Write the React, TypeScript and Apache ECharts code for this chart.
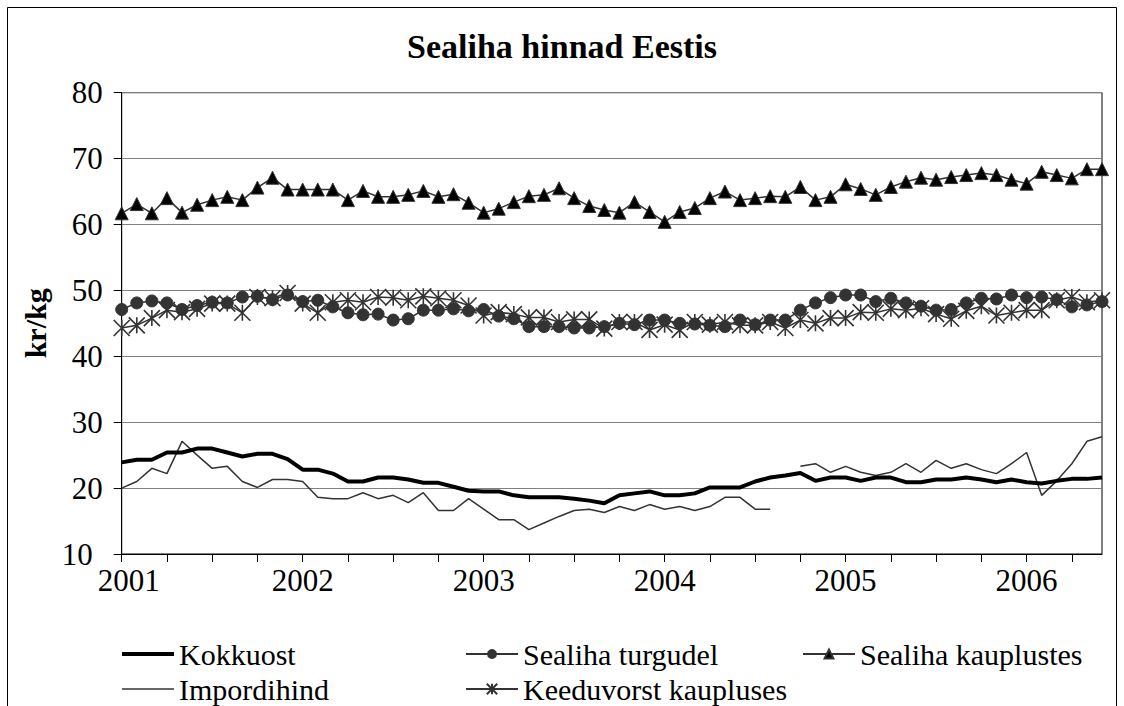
import React, { useEffect, useRef } from "react";
import * as echarts from "echarts";

const startYear = 2001;
const monthCount = 66;
const months: string[] = [];
for (let i = 0; i < monthCount; i++) {
  const y = startYear + Math.floor(i / 12);
  const m = (i % 12) + 1;
  months.push(`${y}-${m < 10 ? "0" + m : m}`);
}

const kokkuost = [
  23.9, 24.3, 24.3, 25.4, 25.4, 26.0, 26.0, 25.4, 24.8, 25.2, 25.2, 24.4,
  22.8, 22.8, 22.2, 21.0, 21.0, 21.6, 21.6, 21.3, 20.8, 20.8, 20.2, 19.6,
  19.5, 19.5, 18.9, 18.6, 18.6, 18.6, 18.4, 18.1, 17.7, 18.9, 19.2, 19.5,
  18.9, 18.9, 19.2, 20.1, 20.1, 20.1, 21.0, 21.6, 21.9, 22.3, 21.1, 21.6,
  21.6, 21.1, 21.6, 21.6, 20.9, 20.9, 21.3, 21.3, 21.6, 21.3, 20.9, 21.3,
  20.9, 20.7, 21.1, 21.4, 21.4, 21.6,
];

const turgudel = [
  47.1, 48.1, 48.4, 48.1, 47.1, 47.7, 48.2, 48.1, 49.0, 49.1, 48.6, 49.3,
  48.3, 48.5, 47.5, 46.6, 46.3, 46.4, 45.5, 45.7, 47.0, 47.0, 47.2, 46.9,
  47.1, 46.1, 45.7, 44.5, 44.5, 44.5, 44.3, 44.3, 44.5, 45.0, 44.8, 45.5,
  45.5, 45.0, 44.9, 44.7, 44.5, 45.5, 44.8, 45.5, 45.5, 47.0, 48.1, 48.9,
  49.3, 49.3, 48.3, 48.8, 48.1, 47.6, 47.0, 47.1, 48.1, 48.8, 48.7, 49.3,
  48.9, 49.0, 48.6, 47.5, 47.8, 48.3,
];

const kauplustes = [
  61.7, 63.1, 61.7, 64.0, 61.8, 63.0, 63.7, 64.2, 63.7, 65.6, 67.1, 65.3,
  65.3, 65.3, 65.3, 63.7, 65.1, 64.2, 64.2, 64.5, 65.1, 64.2, 64.6, 63.3,
  61.8, 62.4, 63.4, 64.3, 64.5, 65.5, 64.0, 62.8, 62.2, 61.8, 63.4, 61.9,
  60.4, 61.9, 62.5, 64.0, 65.0, 63.7, 64.0, 64.3, 64.2, 65.7, 63.7, 64.2,
  66.1, 65.4, 64.5, 65.7, 66.5, 67.1, 66.8, 67.2, 67.5, 67.8, 67.5, 66.8,
  66.2, 68.0, 67.5, 67.0, 68.4, 68.4,
];

const impordihind: (number | null)[] = [
  20.0, 21.0, 23.0, 22.2, 27.1, 25.0, 23.0, 23.3, 21.0, 20.1, 21.3, 21.3,
  21.0, 18.6, 18.4, 18.4, 19.3, 18.4, 18.9, 17.8, 19.3, 16.6, 16.6, 18.4,
  16.8, 15.2, 15.2, 13.7, 14.7, 15.7, 16.6, 16.8, 16.3, 17.2, 16.6, 17.5,
  16.8, 17.2, 16.6, 17.2, 18.6, 18.6, 16.8, 16.8, null, 23.3, 23.7, 22.4,
  23.3, 22.4, 21.9, 22.4, 23.7, 22.4, 24.2, 23.0, 23.7, 22.8, 22.2, 23.7,
  25.4, 18.9, 21.1, 23.7, 27.1, 27.8,
];

const keeduvorst = [
  44.3, 44.7, 45.8, 47.0, 46.7, 47.2, 48.0, 48.0, 46.6, 49.0, 48.8, 49.6,
  48.0, 46.6, 48.2, 48.5, 48.2, 49.0, 48.9, 48.5, 49.1, 48.8, 48.5, 47.7,
  46.2, 46.7, 46.4, 45.9, 45.9, 45.2, 45.6, 45.6, 44.2, 45.2, 45.2, 44.0,
  44.8, 44.0, 45.2, 44.8, 45.2, 44.7, 44.7, 45.2, 44.3, 45.5, 45.0, 45.8,
  45.8, 46.7, 46.6, 47.2, 47.0, 47.3, 46.4, 45.7, 46.9, 47.6, 46.2, 46.6,
  47.0, 47.0, 48.5, 49.0, 48.2, 48.5,
];

const seriesNames = [
  "Kokkuost",
  "Sealiha turgudel",
  "Sealiha kauplustes",
  "Impordihind",
  "Keeduvorst kaupluses",
];

const FONT = "Liberation Serif";
const ASTERISK = "path://M0,0L10,10M10,0L0,10M5,0L5,10";

export default function App() {
  const ref = useRef<HTMLDivElement>(null);
  useEffect(() => {
    if (!ref.current) return;
    const chart = echarts.init(ref.current, undefined, { renderer: "svg" });
    const legendText = { fontFamily: FONT, fontSize: 30, color: "#000" };
    const legendDefs = [
      { left: 122, top: 639, icon: "rect", h: 4 },
      { left: 465, top: 639, icon: undefined, h: 10 },
      { left: 802, top: 639, icon: undefined, h: 11 },
      { left: 122, top: 674, icon: "rect", h: 1.5 },
      { left: 465, top: 674, icon: undefined, h: 13 },
    ];
    const tickFont = { fontFamily: FONT, fontSize: 31, color: "#000" };
    chart.setOption({
      animation: false,
      backgroundColor: "#fff",
      title: {
        text: "Sealiha hinnad Eestis",
        left: "center",
        top: 24,
        textStyle: { fontFamily: FONT, fontSize: 34, fontWeight: "bold", color: "#000" },
      },
      grid: {
        left: 121.7,
        right: 22,
        top: 92.7,
        bottom: 152,
        show: true,
        borderColor: "#000",
        borderWidth: 1,
        backgroundColor: "transparent",
      },
      legend: legendDefs.map((p, i) => ({
        data: [p.icon ? { name: seriesNames[i], icon: p.icon } : seriesNames[i]],
        left: p.left,
        top: p.top,
        padding: 0,
        itemWidth: 52,
        itemHeight: p.h,
        itemGap: 6,
        textStyle: legendText,
        selectedMode: false,
      })),
      xAxis: {
        type: "category",
        data: months,
        boundaryGap: false,
        axisLine: { lineStyle: { color: "#000", width: 1 } },
        axisTick: {
          show: true,
          length: 8,
          interval: (index: number) => index % 3 === 0,
          lineStyle: { color: "#000" },
        },
        axisLabel: {
          interval: (index: number) => index % 12 === 0,
          formatter: (v: string, idx: number) =>
            idx === 0 ? `{f|${v.slice(0, 4)}}` : v.slice(0, 4),
          ...tickFont,
          lineHeight: 22,
          margin: 15,
          rich: { f: { ...tickFont, lineHeight: 22, padding: [0, 0, 0, 14] } },
        },
        splitLine: { show: false },
      },
      yAxis: {
        type: "value",
        min: 10,
        max: 80,
        interval: 10,
        name: "kr/kg",
        nameLocation: "middle",
        nameRotate: 90,
        nameGap: 69,
        nameTextStyle: { fontFamily: FONT, fontSize: 30, fontWeight: "bold", color: "#000" },
        axisLine: { show: true, lineStyle: { color: "#000", width: 1 } },
        axisTick: { show: true, length: 8, lineStyle: { color: "#000" } },
        axisLabel: {
          ...tickFont,
          lineHeight: 22,
          margin: 19,
          formatter: (v: number) => (v === 10 ? `{m|${v}}` : String(v)),
          rich: { m: { ...tickFont, lineHeight: 22, padding: [0, 10, 0, 0] } },
        },
        splitLine: { show: true, lineStyle: { color: "#808080", width: 1 } },
      },
      graphic: [
        {
          type: "rect",
          shape: { x: 7.5, y: 7.5, width: 1109, height: 760 },
          style: { fill: "none", stroke: "#000", lineWidth: 1 },
          silent: true,
        },
      ],
      series: [
        {
          name: seriesNames[0],
          type: "line",
          data: kokkuost,
          symbol: "none",
          lineStyle: { color: "#000", width: 4 },
          itemStyle: { color: "#000" },
          z: 5,
        },
        {
          name: seriesNames[1],
          type: "line",
          data: turgudel,
          symbol: "circle",
          symbolSize: 12,
          showAllSymbol: true,
          lineStyle: { color: "#333", width: 1.5 },
          itemStyle: { color: "#333", borderColor: "#333", borderWidth: 1 },
          z: 3,
        },
        {
          name: seriesNames[2],
          type: "line",
          data: kauplustes,
          symbol: "triangle",
          symbolSize: 13,
          showAllSymbol: true,
          lineStyle: { color: "#333", width: 1.5 },
          itemStyle: { color: "#000", borderColor: "#333", borderWidth: 1 },
          z: 3,
        },
        {
          name: seriesNames[3],
          type: "line",
          data: impordihind,
          symbol: "none",
          connectNulls: false,
          lineStyle: { color: "#333", width: 1.5 },
          itemStyle: { color: "#333" },
          z: 4,
        },
        {
          name: seriesNames[4],
          type: "line",
          data: keeduvorst,
          symbol: ASTERISK,
          symbolSize: 16,
          showAllSymbol: true,
          lineStyle: { color: "#333", width: 1.5 },
          itemStyle: { color: "none", borderColor: "#333", borderWidth: 1.6 },
          z: 4,
        },
      ],
    });
    return () => chart.dispose();
  }, []);
  return (
    <div
      ref={ref}
      style={{ position: "fixed", left: 0, top: 0, width: 1124, height: 706 }}
    />
  );
}
